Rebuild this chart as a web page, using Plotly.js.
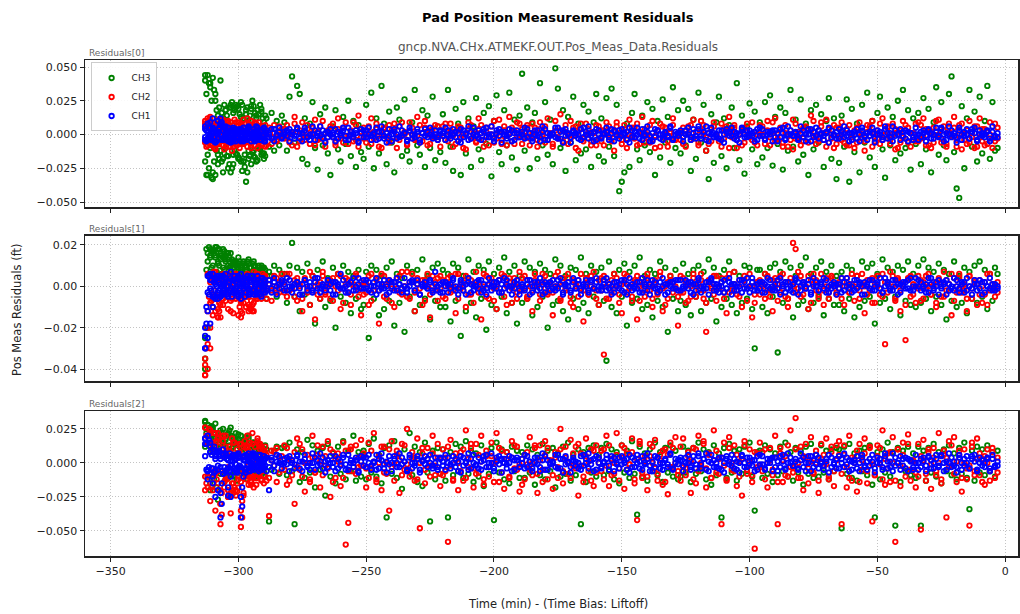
<!DOCTYPE html>
<html><head><meta charset="utf-8">
<script src="https://cdn.plot.ly/plotly-3.0.1.min.js"></script>
<style>html,body{margin:0;padding:0;background:#fff}#chart{width:1020px;height:614px}</style>
</head><body><div id="chart"></div>
<script>
// Time (min, bias: liftoff)
const T = [
-313,-312,-311,-310,-309,-308,-307,-306,-305,-304,-303,-302,-301,-300,-299,-298,-297,-296,-295,-294,-293,-292,-291,-290,-289,-288,-287,-286,-285,-284,-283,
-282,-281,-280,-279,-278,-277,-276,-275,-274,-273,-272,-271,-270,-269,-268,-267,-266,-265,-264,-263,-262,-261,-260,-259,-258,-257,-256,-255,-254,-253,-252,
-251,-250,-249,-248,-247,-246,-245,-244,-243,-242,-241,-240,-239,-238,-237,-236,-235,-234,-233,-232,-231,-230,-229,-228,-227,-226,-225,-224,-223,-222,-221,
-220,-219,-218,-217,-216,-215,-214,-213,-212,-211,-210,-209,-208,-207,-206,-205,-204,-203,-202,-201,-200,-199,-198,-197,-196,-195,-194,-193,-192,-191,-190,
-189,-188,-187,-186,-185,-184,-183,-182,-181,-180,-179,-178,-177,-176,-175,-174,-173,-172,-171,-170,-169,-168,-167,-166,-165,-164,-163,-162,-161,-160,-159,
-158,-157,-156,-155,-154,-153,-152,-151,-150,-149,-148,-147,-146,-145,-144,-143,-142,-141,-140,-139,-138,-137,-136,-135,-134,-133,-132,-131,-130,-129,-128,
-127,-126,-125,-124,-123,-122,-121,-120,-119,-118,-117,-116,-115,-114,-113,-112,-111,-110,-109,-108,-107,-106,-105,-104,-103,-102,-101,-100,-99,-98,-97,
-96,-95,-94,-93,-92,-91,-90,-89,-88,-87,-86,-85,-84,-83,-82,-81,-80,-79,-78,-77,-76,-75,-74,-73,-72,-71,-70,-69,-68,-67,-66,
-65,-64,-63,-62,-61,-60,-59,-58,-57,-56,-55,-54,-53,-52,-51,-50,-49,-48,-47,-46,-45,-44,-43,-42,-41,-40,-39,-38,-37,-36,-35,
-34,-33,-32,-31,-30,-29,-28,-27,-26,-25,-24,-23,-22,-21,-20,-19,-18,-17,-16,-15,-14,-13,-12,-11,-10,-9,-8,-7,-6,-5,-4,
-3];
// Dense early-phase sampling times (min)
const TE = [-313,-312.5,-312,-311.5,-311,-310.5,-310,-309.5,-309,-308.5,-308,-307.5,-307,-306.5,-306,-305.5,-305,-304.5,-304,-303.5,-303,-302.5,-302,-301.5,
-301,-300.5,-300,-299.5,-299,-298.5,-298,-297.5,-297,-296.5,-296,-295.5,-295,-294.5,-294,-293.5,-293,-292.5,-292,-291.5,-291,-290.5,-290,-289.5];

// Residuals in milli-feet (1e-3 ft)
// ---------- Residuals[0] ----------
const CH3_R0 = [
44,-30,38,-33,25,-22,40,-28,18,-25,22,-15,20,-18,24,-20,15,-12,21,-16,14,-10,19,-14,12,-9,16,-12,10,-8,14,
9,-12,28,43,-6,36,30,-18,12,-22,8,24,-10,-26,15,-8,20,-14,-30,6,18,-11,-20,13,-7,25,-16,10,-24,7,-13,
-18,22,-9,31,-25,12,-14,36,8,-22,17,-6,-28,20,11,-16,26,-12,-20,9,33,-8,-15,18,-24,14,-10,28,-19,6,-13,
15,-21,33,-9,-27,19,8,-30,24,-14,12,-24,6,27,-11,-19,16,-7,21,-31,10,29,-13,-22,18,-8,31,-17,11,-26,14,
45,-12,20,-25,9,16,-18,38,-8,24,-15,11,-22,49,34,-10,18,-27,13,-6,28,-19,8,-14,22,-11,17,-24,9,30,-16,
12,-20,27,-9,34,-16,22,-42,-35,-28,8,-24,16,30,-11,-19,14,-8,24,-13,19,-30,10,-17,26,-6,13,-21,35,-10,18,
-14,25,-8,19,-27,11,-18,31,-6,22,-12,-33,15,-21,9,28,-16,12,-25,7,20,-10,38,-19,14,-29,6,23,-11,17,-22,
9,-17,24,-10,29,-23,13,-7,20,-26,16,-12,33,-9,11,-20,26,-15,8,-30,18,-11,22,-6,15,-24,10,27,-18,12,-33,
-21,14,-9,26,-35,19,-13,8,-28,22,-6,31,-17,10,-24,16,28,-11,-32,20,-8,13,-19,25,-14,33,-10,18,-26,12,-7,
16,-22,27,-11,19,-28,9,35,-15,24,-8,-19,30,43,-13,-40,-47,21,-25,12,33,-9,17,-20,28,-14,10,36,-18,24,-12,
-10];
const CH3_R0_Ea = [40,-30,44,-25,35,-32,42,-20,30,18,-15,20,-12,16,-18,22,-10,14,-16,20,-28,24,-22,18,-14,21,-17,15,-20,-27,12,-15,-35,20,-18,14,-22,25,-12,16,-20,18,-10,22,-15,12,-18,14];
const CH3_R0_Eb = [-20,30,-15,38,-10,25,-28,33,-30,-12,14,-18,10,-20,12,-14,18,-16,9,-22,20,-25,16,-12,22,-15,19,-18,13,22,-20,-24,18,-28,10,-16,19,-13,21,-17,12,-19,15,-11,17,-14,9,-16];
const CH2_R0a = [
10,-8,13,-2,6,-7,3,11,-5,0,9,-9,4,-3,7,-6,1,8,-10,2,-4,6,-1,5,-8,3,-2,7,-5,0,4,
-3,7,0,-8,13,2,-5,9,-1,4,-7,1,11,-4,6,-2,-9,3,0,8,-6,12,-3,5,-1,-7,2,9,-4,14,-2,
5,-6,1,12,-3,8,-9,0,4,-2,7,-5,3,-10,6,-1,2,-7,9,0,-4,13,-6,1,5,-8,3,-2,7,-4,0,
-1,8,-5,3,-9,2,6,-3,0,-11,4,7,-2,-6,12,1,-4,5,-8,0,10,-3,2,-7,6,-1,13,-5,3,-2,8,
4,-2,7,-8,1,5,-4,9,-1,-6,12,0,-9,3,-3,15,-5,2,-7,10,-1,6,-12,4,-3,8,0,-5,2,-8,6,
-5,3,9,-2,0,-12,6,1,-7,4,-3,11,-1,5,-8,2,13,-6,0,7,-4,-10,3,8,-2,5,-9,1,12,-3,0,
2,-7,0,6,-4,11,-1,-8,3,7,-12,1,-5,9,0,-3,-9,4,6,13,-2,5,-10,0,3,-6,8,-1,-4,2,-8,
7,0,-4,10,-8,2,12,-3,5,-6,1,-9,3,-11,8,-2,0,-5,6,4,14,-1,-7,3,9,-4,11,-6,0,-10,5,
-2,9,-6,4,-8,0,-10,5,1,-3,-12,7,-1,10,-5,3,-7,12,0,6,-4,8,-11,2,-6,10,-3,5,-9,1,-5,
9,-3,12,-8,2,-10,5,-1,11,-6,3,-9,8,0,13,-4,7,-11,1,-7,10,-2,6,-9,12,-5,4,-7,0,-10,8,
5];
const CH2_R0b = [
-6,12,-3,8,-11,4,-1,7,-9,2,5,-4,0,9,-7,3,-5,1,6,-2,8,-6,2,-3,0,5,-7,1,-4,6,-1,
4,-2,-6,1,8,-9,3,0,-4,7,-1,5,-8,2,-3,10,-5,1,6,-2,-8,4,0,-6,9,-1,3,-5,7,-9,2,
-3,0,6,-7,2,4,-1,-10,5,1,-6,3,8,-2,-4,9,0,-8,2,5,-3,-1,7,-5,10,0,-7,4,-2,6,-9,
6,-4,2,8,-1,-7,3,5,-10,0,9,-3,1,-5,4,7,-9,2,-2,6,-6,0,11,-4,3,-8,1,5,-7,9,-1,
-7,2,5,-3,8,-1,-9,4,0,6,-4,1,-7,10,-2,3,-6,7,-1,-3,5,-10,2,8,-5,0,4,-8,1,7,-3,
3,-8,0,6,-5,2,9,-1,-4,7,-10,0,5,-3,8,-7,1,4,-2,-6,10,-1,3,-9,6,0,-5,2,7,-4,1,
-4,5,-9,1,7,-3,2,-6,10,0,-2,-7,4,6,-1,-5,8,-3,1,-10,3,7,-4,0,-8,5,2,-2,9,-6,0,
1,6,-7,3,-2,9,-5,0,4,-9,7,-1,-4,11,-3,2,-8,5,0,-6,3,10,-2,-5,6,1,-9,4,-3,7,-7,
5,-4,1,-8,7,-2,3,-6,9,0,-5,2,6,-9,1,-3,8,-4,-1,5,-7,0,4,-10,3,-2,7,-6,1,-4,8,
-5,7,-2,4,-8,1,-6,10,0,-3,6,-7,2,-1,5,-9,0,8,-4,3,-6,1,-10,6,-2,4,-8,2,9,-3,-5,
-3];
const CH2_R0_Ea = [8,-9,10,-6,12,-8,5,-10,7,-4,11,-7,9,-3,6,-11,8,-5,10,-9,4,-12,7,-6,9,-8,3,-10,6,-7,11,-4,8,-9,5,-6,10,-3,7,-8,4,-10,9,-5,6,-7,3,-9];
const CH2_R0_Eb = [-5,6,-3,9,-7,4,-2,8,-10,3,-6,7,-1,10,-8,2,-4,9,-6,5,-9,3,-2,11,-7,0,6,-5,8,-3,-7,5,-4,12,-2,7,-8,1,-5,9,-3,6,-6,2,-8,4,-1,7];
const CH1_R0a = [
6,-3,9,12,-5,2,7,-4,1,5,-6,3,0,-2,4,-5,2,6,-1,-3,3,0,-4,5,1,-2,4,-5,0,2,-3,
2,-1,4,0,-3,5,1,-5,3,-2,0,6,-4,1,-1,3,-6,2,0,-2,4,-3,1,5,-1,-4,2,0,3,-5,1,
-2,3,0,-4,1,5,-3,2,-1,-6,4,0,2,-3,6,-1,1,-5,3,0,-2,4,-4,1,-1,2,5,-3,0,-2,3,
1,-4,3,-1,0,2,-5,4,-2,1,6,-3,0,-1,3,-4,2,5,-2,0,-3,1,4,-6,2,-1,0,3,-4,1,-2,
0,5,-2,1,-3,3,-1,-5,2,4,-4,0,1,-2,5,-3,3,-1,0,-6,2,1,-3,4,-2,0,6,-1,2,-4,3,
-3,1,2,-2,4,-5,0,3,-1,1,-4,5,-2,2,0,-3,4,-1,6,-5,1,-2,3,0,-4,2,-1,5,-3,0,1,
3,-2,0,5,-4,1,-1,4,-3,2,6,-5,0,1,-2,3,-4,0,2,-1,5,-3,1,-6,4,0,-2,3,-1,2,-4,
-1,4,-3,0,2,-5,3,1,-2,5,-4,0,3,-1,1,-3,6,-2,0,4,-5,2,-1,3,0,-4,1,5,-2,-1,2,
4,0,-2,3,-5,1,2,-3,0,5,-1,-4,2,1,-6,3,0,-2,4,-3,1,6,-1,0,-4,2,3,-5,1,-2,0,
-4,2,1,-1,3,-3,0,5,-2,4,-5,1,0,3,-1,-2,5,-4,2,0,-3,4,1,-5,3,-1,0,2,-3,6,-2,
1];
const CH1_R0b = [
-4,8,-2,5,-6,10,0,-3,6,-1,3,-5,4,1,-3,2,-4,5,0,-2,6,-1,2,-5,3,0,-3,4,-1,5,-2,
0,3,-5,2,-1,4,-3,1,5,-2,-4,0,3,-1,6,-3,1,-2,4,0,-5,2,-1,3,-4,5,0,-2,1,-6,4,
3,-2,5,-1,0,-4,2,6,-3,1,-1,-5,4,0,-2,3,1,-4,5,-3,0,2,-6,1,4,-2,0,-1,3,-4,2,
-1,5,0,-3,4,-2,1,-6,3,0,-4,2,5,-1,-3,1,4,-2,0,6,-5,3,-1,2,0,-3,4,-5,1,3,-2,
2,-3,4,1,-5,0,3,-2,6,-4,1,-1,0,5,-3,2,-6,4,1,-2,3,-1,0,-4,5,2,-3,1,-5,4,0,
-2,0,5,-4,1,3,-1,-3,4,0,2,-6,3,-2,5,1,-4,0,2,-1,-5,4,3,-3,0,1,-2,6,-4,2,-1,
1,-5,3,0,-2,4,-3,6,-1,2,-4,1,5,-2,0,-3,3,-6,4,1,-1,2,-4,0,5,-2,3,-1,1,-5,4,
5,-1,-4,2,0,3,-2,-5,4,1,-3,6,0,-1,2,-4,1,3,-5,0,4,-2,5,-3,1,-1,2,-6,3,0,-3,
-3,2,6,-1,1,-4,0,4,-5,3,-2,1,-1,5,-3,0,2,-4,6,1,-2,-5,3,0,4,-1,-3,2,1,-4,5,
0,-2,3,-5,4,1,-3,2,-1,5,0,-4,6,-2,1,-6,3,0,-1,4,-3,2,5,-4,0,1,-2,3,-5,2,-1,
-2];
const CH1_R0_Ea = [4,-5,2,-3,5,-4,1,-2,3,-5,0,4,12,9,-3,5,-1,-4,2,-5,3,0,-2,4,-5,1,3,-4,2,-1,5,-3,0,4,-2,3,-5,1,-3,2,-4,5,0,-2,3,-1,4,-5];
const CH1_R0_Eb = [-2,3,-4,5,0,-1,4,-5,2,1,-3,5,8,-4,3,-2,4,1,-5,2,-1,-4,5,0,3,-3,-2,4,-5,3,1,-1,-4,2,5,-2,0,-3,4,-5,1,2,-1,-4,3,0,-3,2];

// ---------- Residuals[1] ----------
const CH3_R1 = [
-35,-20,14,17,19,12,15,18,13,16,10,9,12,14,8,11,9,13,7,10,8,-4,6,9,-6,7,5,10,-5,8,6,
6,-8,10,21,-5,9,-12,7,-4,11,-9,5,-18,8,-6,12,-10,4,-7,9,-20,6,-5,10,-8,7,-13,5,-6,8,-11,
-9,7,-25,10,-6,8,-14,5,-11,9,-7,12,-19,6,-8,4,-22,10,-5,7,-12,8,-9,13,-6,5,-16,9,-7,11,-10,
8,-10,6,-17,11,-7,9,-24,5,-12,13,-8,7,-15,10,-6,8,-21,12,-9,6,-11,9,-5,14,-13,7,-8,10,-18,5,
-8,12,-6,9,-14,7,-10,11,-5,8,-20,6,-9,13,-7,10,-12,5,-16,9,-6,8,-11,14,-8,6,-13,10,-5,7,-9,
9,-7,-36,12,-10,6,-13,8,-5,11,-19,7,-8,10,-6,14,-11,5,-9,8,-15,6,-7,12,-10,9,-22,5,-6,8,-12,
-7,11,-9,6,-14,8,-5,10,-12,7,-8,13,-6,9,-17,5,-10,8,-6,12,-9,7,-13,5,-8,10,-6,9,-11,-30,8,
8,-10,6,-13,9,-5,11,-32,7,-8,12,-6,9,-15,5,-9,10,-7,14,-11,6,-8,9,-5,12,-14,7,-6,10,-9,5,
-9,7,-12,10,-6,8,-15,5,-10,12,-7,9,-5,11,-18,6,-8,13,-6,9,-11,7,-5,10,-14,8,-7,12,-9,6,-10,
10,-8,13,-6,9,-12,7,-5,11,-9,8,-16,6,-7,12,-10,5,-8,9,-13,7,-6,10,-8,12,-5,8,-11,6,-7,9,
6];
const CH3_R1_Ea = [-40,18,12,19,15,17,10,16,14,19,11,18,13,15,9,17,12,16,10,14,8,13,11,12,6,10,9,12,7,11,5,10,8,12,6,9,4,11,7,10,5,8,9,6,10,7,4,8];
const CH3_R1_Eb = [-25,8,16,6,18,9,17,5,15,7,18,10,16,6,14,8,15,4,13,9,16,5,12,7,10,3,11,6,9,8,12,4,10,6,11,5,9,7,12,3,8,6,10,4,7,9,5,6];
const CH2_R1a = [
-43,-40,-30,-14,-12,-15,5,-9,3,-11,0,-13,6,-14,-8,2,-10,4,-2,7,-6,1,-4,5,-1,3,-7,0,4,-3,6,
2,-5,6,-1,3,-7,0,-12,4,-3,7,-2,-16,1,-6,5,-4,0,3,-7,2,6,-11,-1,4,-3,-9,1,5,-2,-14,
-4,1,-9,6,-2,3,-18,0,5,-6,2,-1,-10,4,-3,7,0,-5,2,6,-12,1,-4,3,-7,0,-15,5,-2,4,-1,
3,-6,0,5,-2,-13,6,-1,2,-10,4,-4,1,7,-3,-16,0,5,-6,2,-1,-11,3,6,-5,0,4,-8,1,-3,7,
-2,5,-6,0,-12,3,1,-4,6,-1,-3,2,-14,5,0,-7,4,-2,6,-5,-10,1,3,-1,-17,4,-4,0,7,-2,-9,
4,-33,-6,1,-3,6,0,-4,-13,2,5,-1,-7,3,-16,0,4,-5,6,-2,-10,1,-3,5,-12,0,-6,3,2,-1,-19,
-3,4,-8,1,-5,6,0,-2,3,-6,-22,2,-1,5,-7,0,4,-3,-13,6,-2,1,-4,3,-10,5,-1,0,-15,-8,2,
3,0,-6,5,-2,-12,4,1,-3,6,-5,-10,2,21,18,-1,5,-4,0,-11,3,6,-2,-6,1,-9,4,-3,5,0,-4,
-1,4,-9,2,-3,6,0,5,-6,1,-13,3,-2,4,-8,0,-4,6,-28,2,-1,5,-7,3,-12,0,-26,4,-5,1,-8,
5,-7,2,-1,6,-4,0,-10,3,-5,7,-2,1,-14,4,-3,6,0,-2,-12,5,-6,3,1,-4,-8,2,-9,6,-1,0,
-3];
const CH2_R1b = [
-35,-28,-20,-10,4,-6,-15,2,-4,6,-12,1,-3,5,-7,0,3,-5,2,-1,6,-4,0,3,-6,1,-2,5,-3,2,-1,
-3,6,-2,0,-5,4,1,-6,3,-1,-9,5,0,-4,2,7,-3,1,-6,4,0,-2,5,-8,1,3,-4,0,6,-5,2,
1,-3,5,-7,0,4,-2,6,-5,1,3,-8,2,-1,5,-4,0,7,-6,2,-3,4,-1,-9,3,6,-4,0,2,-7,5,
-5,2,4,-3,0,6,-6,1,-2,5,-4,3,-8,0,2,-1,6,-5,1,4,-7,0,3,-3,5,-9,2,-1,4,-6,0,
4,-1,-5,3,-2,6,0,-7,2,5,-4,1,-3,0,7,-6,2,-1,4,-8,3,0,-5,6,-2,1,-4,5,-1,-6,3,
-2,5,0,-6,3,-1,4,-8,1,6,-3,0,-5,2,5,-7,1,-2,4,0,-6,3,-4,7,-1,-9,2,5,-3,0,-5,
5,-3,2,-7,0,4,-5,1,6,-2,-8,3,0,-4,5,-1,2,-6,4,-3,0,7,-2,-5,1,3,-7,6,0,-4,2,
-4,1,6,-2,-5,3,0,-7,5,-1,2,-6,4,0,-3,7,-5,2,-1,5,-8,1,3,-4,6,-2,0,-6,4,1,-3,
2,-6,0,4,-3,1,-7,5,-2,6,0,-4,3,-8,1,5,-1,-5,2,-3,7,0,-6,4,-2,1,-9,3,5,-4,0,
-1,3,-6,5,0,-4,2,-8,4,1,-5,3,-2,6,-7,0,4,-3,1,-6,5,-1,2,-9,3,0,-4,6,-2,1,-5,
2];
const CH2_R1_Ea = [-43,-30,-12,5,-8,3,-6,7,-4,2,-15,-12,-9,4,-6,1,-3,6,-5,2,-7,5,-2,3,-6,0,4,-3,-15,-13,-8,5,-4,2,-12,-10,-11,-9,-12,3,-5,6,-2,4,-6,1,-3,5];
const CH2_R1_Eb = [-38,-20,6,-5,2,-7,4,-2,7,-6,-11,-8,3,-4,6,-1,-7,2,5,-3,0,-6,4,-2,6,-5,1,-10,-12,-6,3,-2,-5,6,-9,-11,-7,-12,-8,-3,4,-6,2,0,-4,6,-1,2];
const CH1_R1a = [
-30,-25,-18,-10,4,-3,1,-4,2,0,-2,3,-1,4,-3,1,0,-2,3,-4,2,-1,0,3,-2,1,-3,4,0,-1,2,
1,-2,3,0,-1,2,-4,1,3,-2,0,-3,2,4,-1,0,-2,3,1,-4,2,0,-1,3,-3,1,2,-2,0,4,-1,
-1,3,-2,0,2,-4,1,-1,3,0,-3,2,-2,4,1,-1,0,-3,2,3,-2,1,-4,0,2,-1,3,-2,1,0,-3,
2,0,-3,1,4,-2,-1,3,0,-4,2,1,-2,0,3,-3,1,-1,4,-2,0,2,-3,1,-1,3,0,-4,2,1,-2,
0,-2,1,3,-3,0,2,-1,-4,2,1,-2,3,0,-1,4,-3,1,0,-2,2,-1,3,-4,1,0,-2,3,-1,2,0,
-2,1,4,-1,0,-3,2,1,-2,3,-4,0,1,-1,2,-3,4,0,-2,1,3,-1,-3,2,0,-4,1,2,-1,3,-2,
3,-1,0,2,-3,1,-2,4,0,-1,2,-4,3,1,-2,0,2,-3,-1,4,1,-2,0,3,-3,2,-1,0,4,-2,1,
-1,2,-3,0,3,-2,1,-1,4,0,-3,2,-2,1,3,-4,0,2,-1,1,-3,4,0,-2,2,-1,3,-3,1,0,-4,
1,-3,2,4,-1,0,-2,3,1,-4,2,0,-1,3,-2,1,4,-3,0,2,-1,-2,3,1,-3,0,2,-1,4,-2,0,
0,2,-1,-3,4,1,-2,0,3,-1,2,-4,1,0,-2,3,-1,2,-3,4,0,-1,1,-2,3,-4,2,0,-1,1,-2,
-1];
const CH1_R1b = [
-20,-12,6,-5,3,-6,5,-2,4,-4,7,-3,2,-5,6,-1,3,-4,5,-2,1,-3,4,0,-2,3,-1,2,-4,1,3,
-2,4,0,-3,1,2,-1,-4,3,0,2,-2,4,-1,-3,1,0,3,-2,2,-4,1,6,-1,0,-3,2,4,-2,1,-1,
3,-1,2,-3,0,4,-2,1,-1,-4,3,0,2,-2,1,-3,4,-1,0,2,-2,3,-4,1,0,-1,2,-3,7,-2,1,
-3,2,1,-1,3,0,-4,2,-2,1,4,-3,0,2,-1,3,-2,-4,1,0,2,-1,3,-3,4,1,-2,0,-1,3,-4,
1,-1,3,-4,0,2,-2,4,1,-3,0,2,-1,-2,3,1,-4,0,2,-3,4,-1,1,-2,0,3,-3,2,-1,4,-2,
0,3,-2,1,-4,2,0,-1,3,-3,1,4,-2,0,-1,2,-3,1,3,-4,0,2,-1,-2,4,1,-3,0,2,-1,3,
-2,0,3,-1,2,-4,1,3,-3,0,-1,2,4,-2,1,-3,0,3,-1,2,-4,1,-2,0,3,-1,4,-3,2,0,-2,
2,-3,1,4,-1,0,-2,3,-4,1,2,-1,0,-3,4,2,-2,1,-1,3,-4,0,2,-2,1,4,-3,0,-1,2,1,
-1,4,-2,0,1,-3,3,-1,2,0,-4,1,3,-2,0,2,-1,-3,4,1,-2,3,0,-4,1,2,-1,3,-2,0,4,
3,-2,0,1,-3,4,-1,2,-4,0,1,3,-2,-1,4,0,-3,1,2,-2,0,-4,3,1,-1,2,-3,0,4,-2,1,
0];
const CH1_R1_Ea = [-30,-18,5,-4,3,-2,6,-5,1,4,-3,2,-5,0,5,-1,3,-4,2,-2,4,-5,1,3,-3,0,5,-2,-4,1,3,-5,2,-1,4,-3,0,5,-2,1,-4,3,-1,2,-5,4,0,-3];
const CH1_R1_Eb = [-24,-10,-3,5,-1,3,-4,2,-6,0,5,-2,4,-4,1,-3,6,0,-5,2,-1,3,-3,5,-2,4,-4,1,-6,2,0,4,-3,5,-1,-4,2,-2,3,0,-3,5,-1,-4,2,1,-2,3];

// ---------- Residuals[2] ----------
const CH3_R2 = [
31,28,-20,26,18,-27,24,15,-12,22,20,-10,17,14,-8,16,19,-6,12,15,-9,11,13,-7,10,-43,-5,9,12,-8,11,
12,-9,15,-6,-45,10,-14,8,-11,17,-7,13,-18,9,-5,11,-24,14,-10,7,-15,12,-8,16,-12,9,-6,20,-13,8,-10,
9,-12,14,-7,18,-10,6,-15,11,-40,13,-8,16,-11,7,-19,10,-6,22,-9,12,-14,8,-17,15,-7,-43,9,-12,11,-8,
10,-13,-40,8,-9,14,-6,12,-11,16,-8,9,-14,7,-10,13,-17,6,-8,11,-42,15,-7,10,-12,8,-15,12,-6,9,-11,
8,-11,13,-7,10,-16,6,-9,14,-12,9,-6,11,-18,7,-10,12,-8,15,-13,6,-9,10,-45,8,-14,11,-7,13,-10,6,
11,-9,14,-6,10,-12,8,-15,13,-7,9,-11,16,-8,-38,12,-10,7,-13,10,-6,15,-9,8,-14,11,-7,13,-10,9,-12,
-10,12,-7,9,-14,11,-8,15,-6,10,-12,8,-16,13,-9,7,-40,11,-11,14,-7,9,-13,10,-8,12,-6,15,-10,-35,8,
9,-11,13,-8,10,-14,7,-9,12,-6,15,-10,8,-13,11,-7,9,-16,12,-8,14,-11,6,-10,13,-7,9,-12,10,-6,11,
10,-48,12,-8,14,-11,7,-13,9,-6,11,-9,13,-16,-40,8,-12,10,-7,15,-10,8,-46,11,-14,9,-6,12,-9,7,-11,
12,-46,9,-13,11,-7,14,-10,8,-15,10,-6,13,-9,7,-12,11,-8,15,-11,-34,9,-13,12,-7,10,-9,13,-6,8,-10,
9];
const CH3_R2_Ea = [30,22,28,15,26,10,24,18,29,12,22,8,20,16,25,14,18,9,21,13,26,11,19,15,22,7,17,12,20,10,14,-8,16,11,18,6,13,-5,15,9,12,-10,14,8,11,-6,10,13];
const CH3_R2_Eb = [12,25,-10,20,-15,27,8,-12,16,-18,19,14,-8,22,10,-14,17,6,-11,24,-6,18,12,-9,15,-13,21,-4,11,16,-7,13,9,-12,20,4,-9,15,-3,10,-8,13,5,-6,12,-2,8,-10];
const CH2_R2a = [
26,-10,22,-15,-35,18,-6,20,-12,-3,-37,15,-20,4,-14,12,-8,9,-16,2,-11,14,-5,7,-13,-39,9,-2,11,-7,5,
13,-16,3,-9,-30,18,-5,10,-21,0,-14,20,-7,6,-18,12,-2,16,-25,8,-11,1,-17,15,-60,-44,10,-6,13,-3,17,
5,-18,15,-4,22,-12,0,-20,12,-8,-35,16,-1,9,-22,14,-5,25,-10,3,-13,18,-48,7,-15,11,-2,20,-9,4,-17,
10,-6,-58,17,-12,2,-20,8,-13,24,-3,11,-18,14,-7,20,-16,5,-10,15,0,22,-14,9,-19,3,-11,16,-4,12,-21,
-16,6,-1,19,-9,11,-22,13,-5,16,-12,2,-19,8,-11,25,-15,4,-8,17,-2,12,-24,7,-14,18,-6,10,-17,13,0,
9,-12,20,-17,3,-8,22,-4,13,-19,7,-1,18,-15,-42,16,-11,5,-20,14,0,17,-13,6,-16,10,-23,15,-3,19,-9,
-13,18,-4,8,-22,11,-15,20,-2,16,-18,6,-11,24,-7,3,-45,15,-12,19,-5,13,-17,1,-24,16,-8,10,-14,-63,7,
15,-6,10,-18,2,-9,20,-45,11,-14,5,-10,24,-3,33,-11,12,-20,4,-15,19,-7,0,-22,14,-2,18,-12,8,-17,13,
16,-45,6,-18,20,-13,3,-21,14,-5,18,-15,11,-43,-9,13,-1,24,-16,7,-14,19,-58,10,-17,15,-4,21,-13,2,-18,
14,-49,17,-8,10,-19,4,-9,22,-15,6,-40,16,-2,19,-14,9,-21,0,-12,-46,15,-6,18,-9,3,-16,10,-13,8,-11,
-7];
const CH2_R2b = [
-20,15,-28,10,-8,22,-30,5,12,-25,8,-15,3,-10,14,-6,11,-2,-13,7,0,-9,12,-4,6,-11,2,8,-14,4,-1,
-5,11,-13,2,8,-3,14,-10,0,6,-12,4,-7,13,1,-9,5,-4,10,-14,3,7,-1,-11,9,-6,12,0,-8,4,-2,
7,-4,-11,9,1,-14,5,12,-7,0,10,-3,-13,6,2,-9,13,-1,-6,8,4,-12,0,11,-5,3,-10,7,-2,14,-8,
-9,4,12,-2,-13,7,0,-6,10,-11,3,14,-4,-8,6,1,-12,9,-3,5,-14,2,11,-7,0,8,-10,4,13,-5,-1,
3,-12,8,-5,0,13,-8,2,-14,6,11,-1,-9,4,-3,10,-6,12,0,-11,7,-4,14,-2,-10,5,1,-13,9,-7,4,
-6,10,-2,13,-9,0,6,-13,4,11,-5,-1,8,-12,3,14,-7,1,-10,5,12,-4,-8,2,9,-14,6,-3,11,0,-6,
12,-3,-9,5,1,-12,10,-6,0,14,-4,7,-11,2,9,-8,4,-2,-13,11,0,-6,6,-10,3,13,-5,1,-9,8,-3,
-2,8,-12,0,11,-5,4,-14,7,2,-9,13,-3,-7,10,0,-11,5,14,-4,1,-8,9,-13,3,6,-1,-10,12,-6,2,
6,-8,13,-3,-11,4,0,9,-14,2,7,-6,12,-1,-9,5,11,-12,3,-4,8,0,-13,10,-2,6,-10,14,-5,1,-7,
-10,5,2,-13,8,-1,11,-6,0,-12,9,4,-3,13,-8,1,6,-11,10,-4,-2,12,-9,3,7,-14,5,0,-6,11,-3,
4];
const CH2_R2_Ea = [26,-15,20,-10,24,-18,15,-8,22,-12,18,-20,-45,-38,16,-14,20,-10,-25,12,-22,18,-20,15,-24,10,-18,14,-47,-40,-22,16,-12,20,-8,15,-14,22,-10,12,-16,18,-6,14,-12,10,-15,8];
const CH2_R2_Eb = [-10,20,-18,25,-8,14,-20,22,-5,16,-15,12,-30,-22,10,-18,8,-12,-20,-25,5,-15,-22,-18,6,-21,-12,8,-35,-28,-24,5,-10,12,-16,7,-9,14,-18,4,-11,16,-8,10,-13,6,-9,12];
const CH1_R2a = [
18,-6,12,-10,-25,8,-3,10,-7,-18,-25,6,-1,4,-6,2,-4,7,0,5,-3,1,-5,3,-6,-20,4,-2,6,0,-4,
3,-1,5,0,-4,6,1,-6,3,-2,0,7,-5,2,-1,4,-7,2,0,-3,5,-4,1,6,-1,-5,2,0,4,-6,1,
-2,4,0,-5,1,6,-4,2,-1,-7,5,0,3,-3,7,-1,1,-6,4,0,-2,5,-5,1,-1,3,6,-4,0,-3,4,
1,-5,4,-1,0,3,-6,5,-2,1,7,-4,0,-1,4,-5,2,6,-3,0,-4,1,5,-7,3,-1,0,4,-5,2,-3,
0,6,-3,1,-4,4,-1,-6,2,5,-5,0,1,-3,6,-4,3,-1,0,-7,2,1,-4,5,-2,0,7,-1,3,-5,4,
-4,1,3,-2,5,-6,0,4,-1,2,-5,6,-3,2,0,-4,5,-1,7,-6,1,-3,4,0,-5,3,-1,6,-4,0,2,
4,-2,0,6,-5,1,-1,5,-4,3,7,-6,0,2,-3,4,-5,0,3,-1,6,-4,1,-7,5,0,-3,4,-2,2,-5,
-1,5,-4,0,3,-6,4,1,-3,6,-5,0,4,-2,1,-4,7,-3,0,5,-6,2,-1,4,0,-5,1,6,-3,-1,3,
5,0,-3,4,-6,1,2,-4,0,6,-2,-5,3,1,-7,4,0,-3,5,-4,1,7,-2,0,-5,3,4,-6,1,-3,0,
-5,3,1,-2,4,-4,0,6,-3,5,-6,1,0,4,-2,-3,6,-5,3,0,-4,5,1,-6,4,-2,0,3,-4,6,-3,
1];
const CH1_R2b = [
14,-12,8,-15,5,-20,3,-8,6,-24,-10,4,-6,7,-3,5,-7,1,-4,6,-2,3,-5,0,4,-3,2,-6,1,5,-1,
0,4,-6,2,-1,5,-4,1,6,-3,-5,0,4,-2,7,-4,1,-3,5,0,-6,3,-2,4,-5,6,0,-3,2,-7,5,
4,-3,6,-2,0,-5,3,7,-4,1,-1,-6,5,0,-3,4,1,-5,6,-4,0,3,-7,2,5,-3,0,-2,4,-5,3,
-2,6,0,-4,5,-3,1,-7,4,0,-5,3,6,-2,-4,1,5,-3,0,7,-6,4,-1,3,0,-4,5,-6,2,4,-3,
3,-4,5,1,-6,0,4,-3,7,-5,2,-1,0,6,-4,3,-7,5,1,-3,4,-2,0,-5,6,3,-4,2,-6,5,0,
-3,0,6,-5,2,4,-1,-4,5,0,3,-7,4,-3,6,1,-5,0,3,-2,-6,5,4,-4,0,2,-3,7,-5,3,-1,
2,-6,4,0,-3,5,-4,7,-1,3,-5,1,6,-3,0,-4,4,-7,5,1,-2,3,-5,0,6,-3,4,-1,2,-6,5,
6,-1,-5,3,0,4,-3,-6,5,1,-4,7,0,-2,3,-5,2,4,-6,0,5,-3,6,-4,1,-2,3,-7,4,0,-4,
-4,3,7,-1,2,-5,0,5,-6,4,-3,1,-2,6,-4,0,3,-5,7,1,-3,-6,4,0,5,-2,-4,3,2,-5,6,
0,-3,4,-6,5,2,-4,3,-2,6,0,-5,7,-3,1,-7,4,0,-2,5,-4,3,6,-5,0,2,-3,4,-6,3,-2,
-2];
const CH1_R2_Ea = [18,-5,20,-3,15,6,-4,12,-6,8,-2,5,-40,-30,6,-3,7,-5,2,-6,4,-1,6,-4,3,-7,5,-2,-40,-32,4,-5,6,-1,3,-6,5,-2,7,-4,1,-3,6,-5,2,0,-4,3];
const CH1_R2_Eb = [5,14,-6,17,8,-4,10,-7,3,6,-5,9,-22,-15,-8,4,-6,3,-4,7,-2,5,-7,2,-5,6,-3,4,-25,-18,-10,2,-4,5,-6,1,-3,7,-5,4,-2,3,-6,6,-1,-4,5,-2];

const CHANNELS = ['CH3','CH2','CH1'];
const COLORS = ['#008000','#ff0000','#0000ff'];
const PANEL_NAMES = ['Residuals[0]','Residuals[1]','Residuals[2]'];
// each part: [times, values]
const PANEL_SERIES = [
  [[[T,CH3_R0],[TE,CH3_R0_Ea],[TE,CH3_R0_Eb]], [[T,CH2_R0a],[T,CH2_R0b],[TE,CH2_R0_Ea],[TE,CH2_R0_Eb]], [[T,CH1_R0a],[T,CH1_R0b],[TE,CH1_R0_Ea],[TE,CH1_R0_Eb]]],
  [[[T,CH3_R1],[TE,CH3_R1_Ea],[TE,CH3_R1_Eb]], [[T,CH2_R1a],[T,CH2_R1b],[TE,CH2_R1_Ea],[TE,CH2_R1_Eb]], [[T,CH1_R1a],[T,CH1_R1b],[TE,CH1_R1_Ea],[TE,CH1_R1_Eb]]],
  [[[T,CH3_R2],[TE,CH3_R2_Ea],[TE,CH3_R2_Eb]], [[T,CH2_R2a],[T,CH2_R2b],[TE,CH2_R2_Ea],[TE,CH2_R2_Eb]], [[T,CH1_R2a],[T,CH1_R2b],[TE,CH1_R2_Ea],[TE,CH1_R2_Eb]]]
];
const MFT_TO_FT = 0.001;

const traces = [];
PANEL_SERIES.forEach((series, pi) => {
  series.forEach((parts, si) => {
    let xs = [], ys = [];
    parts.forEach(([tt, vals]) => {
      const n = Math.min(tt.length, vals.length);
      xs = xs.concat(tt.slice(0, n));
      ys = ys.concat(vals.slice(0, n).map(v => v * MFT_TO_FT));
    });
    traces.push({
      type:'scatter', mode:'markers', x: xs, y: ys,
      name: CHANNELS[si], legendgroup: CHANNELS[si], showlegend: pi === 0,
      xaxis: pi === 0 ? 'x' : 'x' + (pi + 1),
      yaxis: pi === 0 ? 'y' : 'y' + (pi + 1),
      marker: {symbol:'circle-open', size:4.5, color:COLORS[si], line:{width:1.8, color:COLORS[si]}}
    });
  });
});

const FF = 'DejaVu Sans, sans-serif';
const domains = [[0.7036,1],[0.3528,0.6452],[0,0.2923]];
const yRanges = [[-0.0537,0.0552],[-0.0458,0.02435],[-0.0684,0.0382]];
const yTicks = [[-0.05,-0.025,0,0.025,0.05],[-0.04,-0.02,0,0.02],[-0.05,-0.025,0,0.025]];
const yFmt = ['.3f','.2f','.3f'];
const xTicks = [-350,-300,-250,-200,-150,-100,-50,0];

const axisCommon = {
  showline:true, mirror:true, linecolor:'#222', linewidth:1.5,
  ticks:'outside', ticklen:4, tickwidth:1, tickcolor:'#222',
  showgrid:true, gridcolor:'#c4c4c4', griddash:'1px,2px', gridwidth:1,
  zeroline:false, tickfont:{family:FF, size:11, color:'#222'}
};

const layout = {
  width:1020, height:614,
  margin:{l:85, r:2, t:60, b:58},
  paper_bgcolor:'#fff', plot_bgcolor:'#fff',
  font:{family:FF, size:11, color:'#222'},
  showlegend:true,
  legend:{x:0.006, y:0.995, xanchor:'left', yanchor:'top', xref:'paper', yref:'paper',
    bgcolor:'rgba(255,255,255,0.9)', bordercolor:'#cccccc', borderwidth:1,
    font:{family:FF, size:9, color:'#222'}, itemwidth:30, tracegroupgap:0},
  annotations: [
    {text:'<b>Pad Position Measurement Residuals</b>', xref:'paper', yref:'paper', x:0.507, y:1, yshift:43,
     showarrow:false, xanchor:'center', yanchor:'middle', font:{family:FF, size:13, color:'#000'}},
    {text:'gncp.NVA.CHx.ATMEKF.OUT.Pos_Meas_Data.Residuals', xref:'paper', yref:'paper', x:0.507, y:1, yshift:13,
     showarrow:false, xanchor:'center', yanchor:'middle', font:{family:FF, size:12, color:'#555'}},
    {text:'Pos Meas Residuals (ft)', xref:'paper', yref:'paper', x:-0.073, y:0.496, textangle:-90,
     showarrow:false, xanchor:'center', yanchor:'middle', font:{family:FF, size:11.5, color:'#222'}},
    {text:'Time (min) - (Time Bias: Liftoff)', xref:'paper', yref:'paper', x:0.507, y:0, yshift:-48,
     showarrow:false, xanchor:'center', yanchor:'middle', font:{family:FF, size:11.5, color:'#222'}}
  ]
};

PANEL_NAMES.forEach((name, i) => {
  const xa = i === 0 ? 'xaxis' : 'xaxis' + (i + 1);
  const ya = i === 0 ? 'yaxis' : 'yaxis' + (i + 1);
  layout[xa] = Object.assign({}, axisCommon, {
    range:[-360, 5], tickvals:xTicks,
    showticklabels: i === 2, anchor: i === 0 ? 'y' : 'y' + (i + 1), domain:[0,1]
  });
  if (i > 0) layout[xa].matches = 'x';
  layout[ya] = Object.assign({}, axisCommon, {
    range:yRanges[i], tickvals:yTicks[i], tickformat:yFmt[i],
    domain:domains[i], anchor: i === 0 ? 'x' : 'x' + (i + 1)
  });
  layout.annotations.push({
    text:name, xref:'paper', yref:'paper', x:0.002, y:domains[i][1],
    xanchor:'left', yanchor:'bottom', showarrow:false,
    font:{family:FF, size:9, color:'#666'}
  });
});

Plotly.newPlot('chart', traces, layout, {displayModeBar:false, staticPlot:true});
</script>
</body></html>
